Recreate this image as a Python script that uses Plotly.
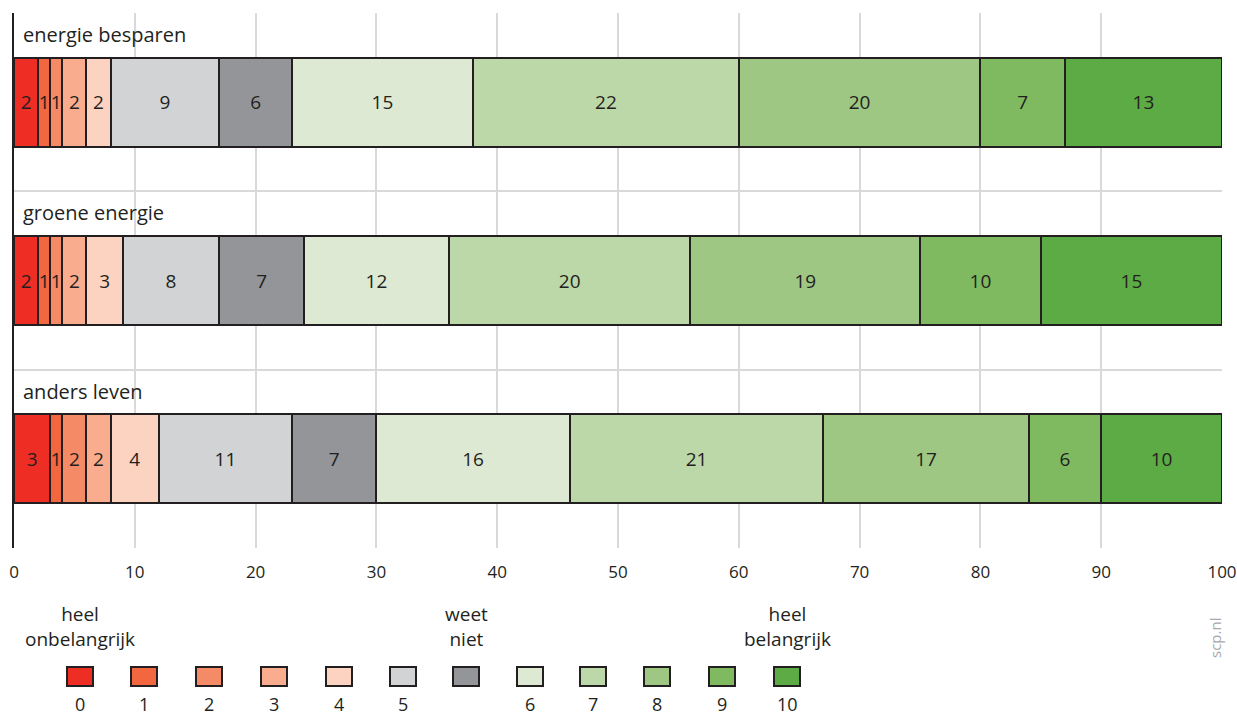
import plotly.graph_objects as go

categories = ["energie besparen", "groene energie", "anders leven"]
segment_names = ["0", "1", "2", "3", "4", "5", "weet niet", "6", "7", "8", "9", "10"]
values = {
    "0": [2, 2, 3],
    "1": [1, 1, 1],
    "2": [1, 1, 2],
    "3": [2, 2, 2],
    "4": [2, 3, 4],
    "5": [9, 8, 11],
    "weet niet": [6, 7, 7],
    "6": [15, 12, 16],
    "7": [22, 20, 21],
    "8": [20, 19, 17],
    "9": [7, 10, 6],
    "10": [13, 15, 10],
}
colors = ["#ee2d24", "#f26640", "#f58a66", "#f9ad8e", "#fcd3c1", "#d1d3d4",
          "#939598", "#dde9d2", "#bdd8a8", "#9dc783", "#7fba61", "#5dab44"]
x_ticks = [0, 10, 20, 30, 40, 50, 60, 70, 80, 90, 100]
legend_labels = ["0", "1", "2", "3", "4", "5", "", "6", "7", "8", "9", "10"]
legend_captions = {0: "heel<br>onbelangrijk", 6: "weet<br>niet", 11: "heel<br>belangrijk"}

FONT = "Open Sans"
DARK = "#231f20"
W, H = 1237, 718
L, R, T, B = 14, 15, 13, 170
pw, ph = W - L - R, H - T - B

ypos = [i + 0.5 for i in range(len(categories))]

fig = go.Figure()
for name, col in zip(segment_names, colors):
    fig.add_trace(go.Bar(
        y=ypos, x=values[name], orientation="h", width=0.5,
        marker=dict(color=col, line=dict(color=DARK, width=2)),
        text=[str(v) for v in values[name]], textposition="inside",
        insidetextanchor="middle", textangle=0,
        textfont=dict(family=FONT, size=19, color=DARK),
        name=name, showlegend=False, hoverinfo="x+name",
    ))

annotations = []
for i, c in enumerate(categories):
    annotations.append(dict(x=0.6, y=i + 0.12, xref="x", yref="y", text=c,
                            showarrow=False, xanchor="left", yanchor="middle",
                            font=dict(family=FONT, size=20, color=DARK)))

def px_x(px):
    return (px - L) / pw

def px_y(py):
    return (T + ph - py) / ph

centers = [80, 144, 209, 274, 339, 403, 466, 530, 593, 657, 722, 787]
shapes = []
for k, (cx, col) in enumerate(zip(centers, colors)):
    shapes.append(dict(type="rect", xref="paper", yref="paper",
                       x0=px_x(cx - 13), x1=px_x(cx + 13),
                       y0=px_y(686), y1=px_y(667),
                       fillcolor=col, line=dict(color=DARK, width=2)))
    if legend_labels[k]:
        annotations.append(dict(x=px_x(cx), y=px_y(704), xref="paper", yref="paper",
                                text=legend_labels[k], showarrow=False,
                                xanchor="center", yanchor="middle",
                                font=dict(family=FONT, size=18, color=DARK)))
    if k in legend_captions:
        annotations.append(dict(x=px_x(cx), y=px_y(626), xref="paper", yref="paper",
                                text=legend_captions[k], showarrow=False,
                                xanchor="center", yanchor="middle",
                                font=dict(family=FONT, size=19, color=DARK)))

annotations.append(dict(x=px_x(1215), y=px_y(638), xref="paper", yref="paper",
                        text="scp.nl", showarrow=False, textangle=-90,
                        xanchor="center", yanchor="middle",
                        font=dict(family=FONT, size=15, color="#a7a9ac")))

fig.update_layout(
    barmode="stack",
    width=W, height=H,
    margin=dict(l=L, r=R, t=T, b=B, pad=0, autoexpand=False),
    paper_bgcolor="white", plot_bgcolor="white",
    font=dict(family=FONT, color=DARK),
    uniformtext=dict(minsize=19, mode="show"),
    xaxis=dict(range=[0, 100], tickvals=x_ticks, ticktext=[str(t) for t in x_ticks],
               showgrid=True, gridcolor="#d9d9d9", gridwidth=2, zeroline=False,
               showline=False, ticks="", ticklabelstandoff=12,
               ticklabeloverflow="allow", automargin=False,
               tickfont=dict(family=FONT, size=17, color=DARK)),
    yaxis=dict(range=[3, 0], tickvals=[0, 1, 2, 3], showticklabels=False,
               showgrid=True, gridcolor="#d9d9d9", gridwidth=2, zeroline=False,
               showline=True, linecolor=DARK, linewidth=2, ticks="", automargin=False),
    annotations=annotations,
    shapes=shapes,
)

fig.write_html("out.html", config={"displayModeBar": False},
               post_script="document.body.style.margin='0';document.body.style.padding='0';document.documentElement.style.overflow='hidden';")
